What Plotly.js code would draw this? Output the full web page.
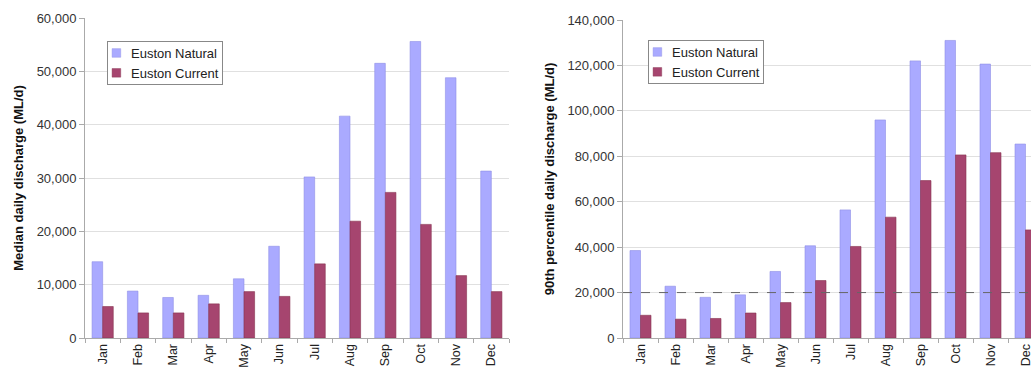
<!DOCTYPE html>
<html><head><meta charset="utf-8">
<script src="https://cdn.plot.ly/plotly-3.0.1.min.js"></script>
<style>
html,body{margin:0;padding:0;overflow:hidden;background:#fff;width:1031px;height:372px}
#chart{width:1050px;height:372px}
</style>
</head><body><div id="chart"></div>
<script>
const months = ["Jan","Feb","Mar","Apr","May","Jun","Jul","Aug","Sep","Oct","Nov","Dec"];
const medianNatural = [14300, 8800, 7600, 8000, 11100, 17200, 30200, 41600, 51500, 55600, 48800, 31300];
const medianCurrent = [5900, 4700, 4700, 6400, 8700, 7800, 13900, 21900, 27300, 21300, 11700, 8700];
const p90Natural = [38500, 22800, 17900, 19000, 29300, 40600, 56400, 96000, 122000, 131000, 120600, 85400];
const p90Current = [10000, 8300, 8600, 11000, 15600, 25300, 40300, 53200, 69300, 80600, 81600, 47600];
const threshold90 = 20000;
const seriesNames = ['Euston Natural', 'Euston Current'];

const W = 1050, H = 372;
const cNat = '#AAAAFF', cCur = '#A6456F';
const font = {family: 'Liberation Sans, Arial, sans-serif', size: 13, color: '#222'};

const data = [
  {type:'bar', x: months, y: medianNatural, name:seriesNames[0], marker:{color:cNat, line:{color:'#8f8fe6', width:0.6}}, xaxis:'x', yaxis:'y', legend:'legend'},
  {type:'bar', x: months, y: medianCurrent, name:seriesNames[1], marker:{color:cCur, line:{color:'#86334f', width:0.6}}, xaxis:'x', yaxis:'y', legend:'legend'},
  {type:'bar', x: months, y: p90Natural, name:seriesNames[0], marker:{color:cNat, line:{color:'#8f8fe6', width:0.6}}, xaxis:'x2', yaxis:'y2', legend:'legend2'},
  {type:'bar', x: months, y: p90Current, name:seriesNames[1], marker:{color:cCur, line:{color:'#86334f', width:0.6}}, xaxis:'x2', yaxis:'y2', legend:'legend2'}
];

const xCommon = {
  type:'category', showgrid:false, showline:true, linecolor:'#aaa', linewidth:1,
  ticks:'outside', tickson:'boundaries', ticklen:4, tickcolor:'#aaa',
  tickangle:-90, tickfont:{...font, size:12.5}, fixedrange:true, automargin:false
};
const yCommon = {
  showgrid:true, gridcolor:'#e0e0e0', gridwidth:1, showline:true, linecolor:'#aaa', linewidth:1,
  ticks:'outside', ticklen:5, tickcolor:'#aaa', tickformat:',d', tickfont:{...font, color:'#333'},
  zeroline:false, fixedrange:true, automargin:false
};

const layout = {
  width: W, height: H,
  margin:{l:0, r:0, t:0, b:0},
  paper_bgcolor:'#fff', plot_bgcolor:'#fff',
  font: font,
  barmode:'group', bargap:0.4, bargroupgap:0,
  showlegend:true,
  xaxis: {...xCommon, domain:[85/W, 509/W], anchor:'y'},
  yaxis: {...yCommon, domain:[34/H, 354/H], range:[0, 60000], dtick:10000, anchor:'x',
          title:{text:'<b>Median daily discharge (ML/d)</b>', font:{...font, size:13, color:'#111'}, standoff:10}},
  xaxis2: {...xCommon, domain:[623/W, 1043/W], anchor:'y2'},
  yaxis2: {...yCommon, domain:[34/H, 352/H], range:[0, 140000], dtick:20000, anchor:'x2',
          title:{text:'<b>90th percentile daily discharge (ML/d)</b>', font:{...font, size:13, color:'#111'}, standoff:9}},
  legend: {x:107/W, y:(H-41)/H, xanchor:'left', yanchor:'top', bgcolor:'#fff', bordercolor:'#888', borderwidth:1,
           font:{...font, size:13}, tracegroupgap:0, itemwidth:30, traceorder:'normal'},
  legend2: {x:648/W, y:(H-40)/H, xanchor:'left', yanchor:'top', bgcolor:'#fff', bordercolor:'#888', borderwidth:1,
           font:{...font, size:13}, tracegroupgap:0, itemwidth:30, traceorder:'normal'},
  shapes: [
    {type:'line', xref:'x2 domain', yref:'y2', x0:0, x1:1, y0:threshold90, y1:threshold90,
     line:{color:'#666', width:1, dash:'dash'}, layer:'above'}
  ]
};

function tidyLegends(gd){
  gd.querySelectorAll('rect.bg').forEach(function(r){
    if (r.dataset.tidy) return;
    r.dataset.tidy = '1';
    r.setAttribute('width', parseFloat(r.getAttribute('width')) - 19);
    r.setAttribute('height', parseFloat(r.getAttribute('height')) - 8);
  });
  gd.querySelectorAll('g.legendpoints').forEach(function(p){
    p.style.transform = 'translate(-6px,-4px) scale(0.72)';
  });
  gd.querySelectorAll('text').forEach(function(t){
    if (t.dataset.tidy) return;
    if (seriesNames.indexOf((t.textContent || '').trim()) < 0) return;
    t.dataset.tidy = '1';
    t.setAttribute('x', parseFloat(t.getAttribute('x') || 0) - 17);
    t.setAttribute('y', parseFloat(t.getAttribute('y') || 0) - 4);
    t.querySelectorAll('tspan[x]').forEach(function(s){
      s.setAttribute('x', parseFloat(s.getAttribute('x')) - 17);
    });
  });
}

Plotly.newPlot('chart', data, layout, {displayModeBar:false, staticPlot:true}).then(function(gd){
  tidyLegends(gd);
  requestAnimationFrame(function(){ tidyLegends(gd); });
  setTimeout(function(){ tidyLegends(gd); }, 50);
  setTimeout(function(){ tidyLegends(gd); }, 300);
});
</script>
</body></html>
